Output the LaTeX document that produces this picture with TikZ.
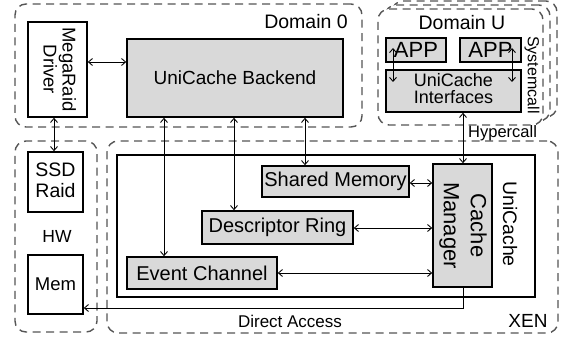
\documentclass[tikz,border=0pt]{standalone}
\usepackage{fontspec}
\setmainfont{Liberation Sans}
\usetikzlibrary{arrows.meta}
\definecolor{boxgray}{RGB}{217,217,217}
\definecolor{dashgray}{RGB}{85,85,85}
\newcommand{\fs}[2]{\fontsize{#1}{#2}\selectfont}
\begin{document}
\begin{tikzpicture}[x=1pt,y=-1pt,
  solidbox/.style={draw=black,line width=1.6pt,inner sep=0pt,minimum width=#1},
  graybox/.style={solidbox=#1,fill=boxgray},
  whitebox/.style={solidbox=#1,fill=white},
  container/.style={draw=dashgray,line width=1.4pt,dash pattern=on 8pt off 5.5pt,rounded corners=11pt,inner sep=0pt,minimum width=#1},
  biarrow/.style={line width=0.9pt,{Straight Barb[length=4pt,width=7pt]}-{Straight Barb[length=4pt,width=7pt]}},
  onearrow/.style={line width=0.9pt,-{Straight Barb[length=4pt,width=7pt]}},
  lbl/.style={inner sep=0pt}
]
\useasboundingbox (0,0) rectangle (563,339);
% containers
\node[container=347,minimum height=123] (dom0) at (188.5,65.5) {};
\node[container=165,minimum height=116,fill=white] (domUb2) at (474.5,59) {};
\node[container=165,minimum height=116,fill=white] (domUb1) at (467.5,63) {};
\node[container=165,minimum height=116,fill=white] (domU) at (460.5,67) {};
\node[container=82,minimum height=191] (hw) at (56,236.5) {};
\node[container=451,minimum height=192] (xen) at (332.5,237) {};
% labels of containers
\node[lbl,font=\fs{19.5}{23}] (dom0l) at (306,22) {Domain 0};
\node[lbl,font=\fs{19.5}{23}] (domUl) at (462,23) {Domain U};
\node[lbl,font=\fs{16}{19}] (sysl) at (532,75) {\rotatebox{-90}{Systemcall}};
\node[lbl,font=\fs{17.5}{21}] (hwl) at (57,236) {HW};
\node[lbl,font=\fs{19}{23}] (xenl) at (528,321) {XEN};
\node[lbl,font=\fs{17}{20}] (dal) at (290,321) {Direct Access};
% Domain 0
\node[whitebox=59,minimum height=95,font=\fs{18.5}{22}] (mr) at (57.5,69.5)
  {\rotatebox{-90}{\begin{tabular}{@{}c@{}}MegaRaid\\[-3pt]Driver\end{tabular}}};
\node[graybox=216,minimum height=78,font=\fs{19}{23}] (be) at (235,78) {UniCache Backend};
% Domain U
\node[graybox=60,minimum height=24,font=\fs{22}{26}] (app1) at (416,50) {APP};
\node[graybox=61,minimum height=24,font=\fs{22}{26}] (app2) at (490.5,50) {APP};
\node[graybox=135,minimum height=42,font=\fs{18}{21}] (ui) at (453.5,91)
  {\begin{tabular}{@{}c@{}}UniCache\\[-4pt]Interfaces\end{tabular}};
% HW
\node[whitebox=55,minimum height=60,font=\fs{19.5}{23}] (ssd) at (55.5,182)
  {\begin{tabular}{@{}c@{}}SSD\\[-2pt]Raid\end{tabular}};
\node[whitebox=55,minimum height=59,font=\fs{18.5}{22}] (mem) at (55.5,284.5) {Mem};
% XEN
\node[solidbox=418,minimum height=142] (uc) at (326,226) {};
\node[lbl,font=\fs{19.5}{23}] (ucl) at (510,224) {\rotatebox{-90}{UniCache}};
\node[graybox=59,minimum height=123,font=\fs{22}{26}] (cm) at (462.5,225.5)
  {\rotatebox{-90}{\begin{tabular}{@{}c@{}}Cache\\[1pt]Manager\end{tabular}}};
\node[graybox=147,minimum height=31,font=\fs{20}{24}] (sm) at (335.5,181.5) {Shared Memory};
\node[graybox=151,minimum height=33,font=\fs{20}{24}] (dr) at (277.5,227.5) {Descriptor Ring};
\node[graybox=150,minimum height=32,font=\fs{20}{24}] (ec) at (202,273) {Event Channel};
% connectors
\draw[biarrow] (mr.east |- 0,62) -- (be.west |- 0,62);
\draw[biarrow] (mr.south -| 54,0) -- (ssd.north -| 54,0);
\draw[biarrow] (be.south -| 164,0) -- (ec.north -| 164,0);
\draw[biarrow] (be.south -| 234,0) -- (dr.north -| 234,0);
\draw[biarrow] (be.south -| 305,0) -- (sm.north -| 305,0);
\draw[biarrow] (sm.east |- 0,183) -- (cm.west |- 0,183);
\draw[biarrow] (dr.east |- 0,228) -- (cm.west |- 0,228);
\draw[biarrow] (ec.east |- 0,273) -- (cm.west |- 0,273);
\draw[biarrow] (ui.south -| 463,0) -- (cm.north -| 463,0);
\node[lbl,font=\fs{16.5}{20},anchor=west] (hcl) at (468,133) {Hypercall};
\coordinate (a1t) at (393,48);
\coordinate (a1b) at (393,82);
\coordinate (a2t) at (512,48);
\coordinate (a2b) at (512,82);
\draw[biarrow] (a1t) -- (a1b);
\draw[biarrow] (a2t) -- (a2b);
\coordinate (dabend) at (463,308);
\draw[onearrow] (cm.south -| 463,0) -- (dabend) -- (mem.east |- dabend);
\end{tikzpicture}
\end{document}
